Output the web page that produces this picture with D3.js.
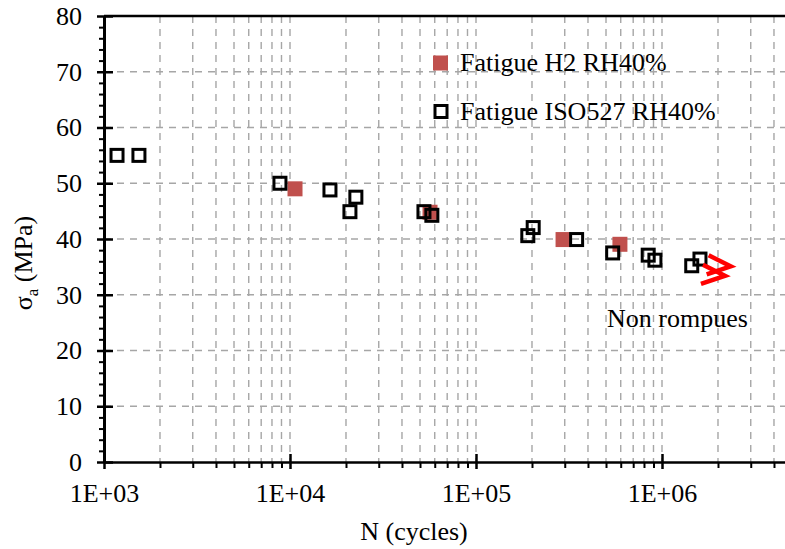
<!DOCTYPE html>
<html>
<head>
<meta charset="utf-8">
<script src="https://cdn.jsdelivr.net/npm/d3@7"></script>
<style>
  html, body { margin: 0; padding: 0; background: #fff; }
  svg { display: block; font-family: "Liberation Serif", "Times New Roman", serif; }
</style>
</head>
<body>
<svg id="chart" width="785" height="549"></svg>
<script>
// ---- data ----
const seriesNames = ["Fatigue H2 RH40%", "Fatigue ISO527 RH40%"];
const h2Cycles  = [10640, 56600, 293800, 594000];
const h2Stress  = [49.0, 44.8, 39.9, 39.05];
const isoCycles = [1175, 1541, 8830, 16400, 22600, 21000, 52500, 57900, 189900, 203000, 347500, 543000, 843000, 916000, 1445000, 1600000];
const isoStress = [55.0, 55.0, 50.0, 48.8, 47.5, 44.9, 44.9, 44.25, 40.6, 42.05, 39.9, 37.5, 37.1, 36.2, 35.2, 36.4];
const runoutCycles = [2340000, 2180000];
const runoutStress = [35.1, 33.4];
const xMajorTicks = [1e3, 1e4, 1e5, 1e6];
const xTickLabels = ["1E+03", "1E+04", "1E+05", "1E+06"];
const yMajorTicks = [0, 10, 20, 30, 40, 50, 60, 70, 80];
const runoutLabel = "Non rompues";
const xTitle = "N (cycles)";

// ---- layout ----
const svg = d3.select("#chart");
const L = 104, R = 848, T = 16, B = 462;
const x = d3.scaleLog().domain([1e3, 1e7]).range([L, R]);
const y = d3.scaleLinear().domain([0, 80]).range([B, T]);

const xMinorTicks = [];
for (let e = 3; e < 7; e++) for (let k = 2; k <= 9; k++) xMinorTicks.push(k * Math.pow(10, e));
const yMinorTicks = d3.range(0, 81, 2).filter(v => v % 10 !== 0);

const gridColor = "#a6a6a6";
const grid = svg.append("g");
// vertical grid (major + minor)
grid.selectAll("line.v").data(xMinorTicks.concat(xMajorTicks.slice(1)))
  .join("line")
  .attr("x1", d => x(d)).attr("x2", d => x(d))
  .attr("y1", T).attr("y2", B)
  .attr("stroke", gridColor).attr("stroke-width", 1.4)
  .attr("stroke-dasharray", "7,6");
// horizontal grid (major)
grid.selectAll("line.h").data(yMajorTicks.slice(1, 8))
  .join("line")
  .attr("x1", L).attr("x2", R)
  .attr("y1", d => y(d)).attr("y2", d => y(d))
  .attr("stroke", gridColor).attr("stroke-width", 1.4)
  .attr("stroke-dasharray", "7,6");

// top & right border
svg.append("line").attr("x1", L).attr("x2", R).attr("y1", T).attr("y2", T)
  .attr("stroke", "#000").attr("stroke-width", 2.5);
svg.append("line").attr("x1", R).attr("x2", R).attr("y1", T).attr("y2", B)
  .attr("stroke", "#000").attr("stroke-width", 2.5);

// ---- x axis ----
const gxMinor = svg.append("g").attr("transform", `translate(0,${B})`)
  .call(d3.axisBottom(x).tickValues(xMinorTicks).tickSize(6).tickFormat(""));
gxMinor.select(".domain").remove();
gxMinor.selectAll(".tick line").attr("stroke-width", 2);

const gx = svg.append("g").attr("transform", `translate(0,${B})`)
  .call(d3.axisBottom(x).tickValues(xMajorTicks).tickSizeOuter(0).tickSizeInner(7)
        .tickFormat((d, i) => xTickLabels[i]));
gx.select(".domain").attr("stroke-width", 2.5);
gx.selectAll(".tick line").attr("y1", -8).attr("y2", 7).attr("stroke-width", 2.5);
gx.selectAll(".tick text").attr("y", 40).attr("dy", null)
  .attr("font-size", 26).attr("font-family", "Liberation Serif").attr("fill", "#000");

// ---- y axis ----
const gyMinor = svg.append("g").attr("transform", `translate(${L},0)`)
  .call(d3.axisLeft(y).tickValues(yMinorTicks).tickSize(5).tickFormat(""));
gyMinor.select(".domain").remove();
gyMinor.selectAll(".tick line").attr("stroke-width", 2);

const gy = svg.append("g").attr("transform", `translate(${L},0)`)
  .call(d3.axisLeft(y).tickValues(yMajorTicks).tickSizeOuter(0).tickSizeInner(7).tickPadding(15));
gy.select(".domain").attr("stroke-width", 3);
gy.selectAll(".tick line").attr("x1", -7).attr("x2", 9).attr("stroke-width", 2.5);
gy.selectAll(".tick text").attr("font-size", 26).attr("font-family", "Liberation Serif")
  .attr("fill", "#000").attr("x", -22);

// ---- points ----
const red = "#c0504d";
const h2 = h2Cycles.map((n, i) => ({ n, s: h2Stress[i] }));
const iso = isoCycles.map((n, i) => ({ n, s: isoStress[i] }));
svg.append("g").selectAll("rect").data(h2).join("rect")
  .attr("x", d => x(d.n) - 7.5).attr("y", d => y(d.s) - 7.5)
  .attr("width", 15).attr("height", 15).attr("fill", red);
svg.append("g").selectAll("rect").data(iso).join("rect")
  .attr("x", d => x(d.n) - 6).attr("y", d => y(d.s) - 6)
  .attr("width", 12).attr("height", 12)
  .attr("fill", "none").attr("stroke", "#000").attr("stroke-width", 3);

// run-out arrows
const runouts = runoutCycles.map((n, i) => ({ n, s: runoutStress[i] }));
svg.append("g").selectAll("path").data(runouts).join("path")
  .attr("d", d => {
    const px = x(d.n), py = y(d.s);
    return `M${px - 22},${py - 11} L${px},${py} L${px - 24},${py + 8}`;
  })
  .attr("fill", "none").attr("stroke", "#ff0000").attr("stroke-width", 4.5)
  .attr("stroke-linejoin", "miter");

svg.append("text").attr("x", 607).attr("y", 327)
  .attr("font-size", 26).attr("fill", "#000").text(runoutLabel);

// ---- legend ----
const lg = svg.append("g");
lg.append("rect").attr("x", 433).attr("y", 55.5).attr("width", 15).attr("height", 15).attr("fill", red);
lg.append("text").attr("x", 460).attr("y", 71).attr("font-size", 26).text(seriesNames[0]);
lg.append("rect").attr("x", 435).attr("y", 105.5).attr("width", 12).attr("height", 12)
  .attr("fill", "none").attr("stroke", "#000").attr("stroke-width", 3);
lg.append("text").attr("x", 460).attr("y", 120).attr("font-size", 26).text(seriesNames[1]);

// ---- axis titles ----
svg.append("text").attr("x", 414).attr("y", 540).attr("text-anchor", "middle")
  .attr("font-size", 26).text(xTitle);
const yt = svg.append("text").attr("transform", "translate(32,263) rotate(-90)")
  .attr("text-anchor", "middle").attr("font-size", 26);
yt.append("tspan").text("σ");
yt.append("tspan").attr("font-size", 17).attr("dy", 6).text("a");
yt.append("tspan").attr("dy", -6).text(" (MPa)");
</script>
</body>
</html>
